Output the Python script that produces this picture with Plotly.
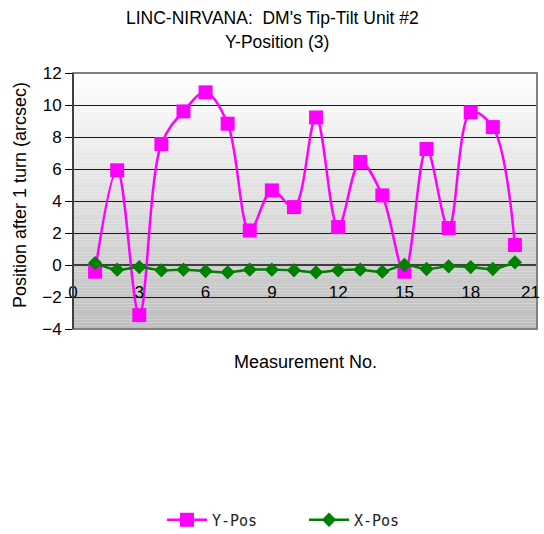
import plotly.graph_objects as go

measurement = list(range(1, 21))
y_pos = [-0.42, 5.92, -3.13, 7.56, 9.6, 10.79, 8.83, 2.16, 4.66, 3.62,
         9.22, 2.37, 6.44, 4.35, -0.42, 7.25, 2.31, 9.54, 8.62, 1.25]
x_pos = [0.12, -0.29, -0.13, -0.33, -0.29, -0.38, -0.46, -0.29, -0.29, -0.33,
         -0.46, -0.33, -0.29, -0.42, 0.0, -0.25, -0.08, -0.13, -0.25, 0.17]
x_ticks = [0, 3, 6, 9, 12, 15, 18, 21]
y_ticks = [-4, -2, 0, 2, 4, 6, 8, 10, 12]

FONT = "Liberation Sans, Arial, sans-serif"

fig = go.Figure()
fig.add_trace(go.Scatter(
    x=measurement, y=y_pos, name="Y-Pos", mode="lines+markers",
    line=dict(color="#ff00ff", width=2.5, shape="spline", smoothing=1),
    marker=dict(symbol="square", size=14, color="#ff00ff"),
))
fig.add_trace(go.Scatter(
    x=measurement, y=x_pos, name="X-Pos", mode="lines+markers",
    line=dict(color="#008000", width=2.5, shape="spline", smoothing=1),
    marker=dict(symbol="diamond", size=11, color="#008000"),
))

# gradient background of plot area
shapes = []
n = 80
top = (255, 255, 255)
bot = (190, 190, 190)
for i in range(n):
    t = (i + 0.5) / n
    c = tuple(int(round(top[k] + (bot[k] - top[k]) * t)) for k in range(3))
    shapes.append(dict(type="rect", xref="paper", yref="paper",
                       x0=0, x1=1, y0=1 - (i + 1) / n, y1=1 - i / n,
                       fillcolor="rgb(%d,%d,%d)" % c, line=dict(width=0),
                       layer="below"))
shapes.append(dict(type="rect", xref="paper", yref="paper", x0=0, x1=1, y0=0, y1=1,
                   line=dict(color="#808080", width=2), layer="above"))
shapes.append(dict(type="line", xref="paper", yref="paper", x0=0, x1=0, y0=0, y1=1,
                   line=dict(color="#000000", width=1), layer="above"))

tick_text = [str(v) for v in x_ticks]
last_label = tick_text[-1]
tick_text[-1] = ""

fig.update_layout(
    width=544, height=534,
    margin=dict(l=73, r=7, t=73, b=205, autoexpand=False),
    paper_bgcolor="white", plot_bgcolor="rgba(0,0,0,0)",
    shapes=shapes,
    showlegend=True,
    legend=dict(orientation="h", xref="container", x=162 / 544, xanchor="left",
                yref="container", y=14 / 534, yanchor="middle",
                font=dict(family="DejaVu Sans Mono", size=15, color="#222"),
                itemwidth=40, entrywidth=87, entrywidthmode="pixels"),
    annotations=[
        dict(text="LINC-NIRVANA:  DM's Tip-Tilt Unit #2", xref="paper", yref="paper",
             x=(272 - 73) / 464, y=1.216, showarrow=False, yanchor="middle",
             font=dict(family=FONT, size=17.5, color="#000")),
        dict(text="Y-Position (3)", xref="paper", yref="paper",
             x=(277 - 73) / 464, y=1.121, showarrow=False, yanchor="middle",
             font=dict(family=FONT, size=17.5, color="#000")),
        dict(text="Measurement No.", xref="paper", yref="paper",
             x=0.5, y=-0.13, showarrow=False, yanchor="middle",
             font=dict(family=FONT, size=18, color="#000")),
        dict(text="Position after 1 turn (arcsec)", xref="paper", yref="paper",
             x=(20 - 73) / 464, y=(329 - 195) / 256, showarrow=False, textangle=-90,
             xanchor="center", yanchor="middle",
             font=dict(family=FONT, size=18, color="#000")),
        dict(text=last_label, xref="x", yref="paper", x=x_ticks[-1], xshift=5,
             y=(329 - 292) / 256, showarrow=False, xanchor="right", yanchor="middle",
             font=dict(family=FONT, size=17, color="#000")),
    ],
)
fig.update_xaxes(range=[0, 21], tickvals=x_ticks, ticktext=tick_text,
                 showgrid=False, zeroline=False, showline=False, automargin=False,
                 anchor="free", position=0.25, ticks="", ticklabelstandoff=15,
                 tickfont=dict(family=FONT, size=17, color="#000"))
fig.update_yaxes(range=[-4, 12], tickvals=y_ticks, showgrid=True, gridcolor="#1a1a1a",
                 gridwidth=1, zeroline=True, zerolinecolor="#404040", zerolinewidth=1.5,
                 showline=False, ticks="outside", ticklen=7, tickcolor="#000",
                 automargin=False,
                 tickfont=dict(family=FONT, size=17, color="#000"))
fig.write_html("out.html")
